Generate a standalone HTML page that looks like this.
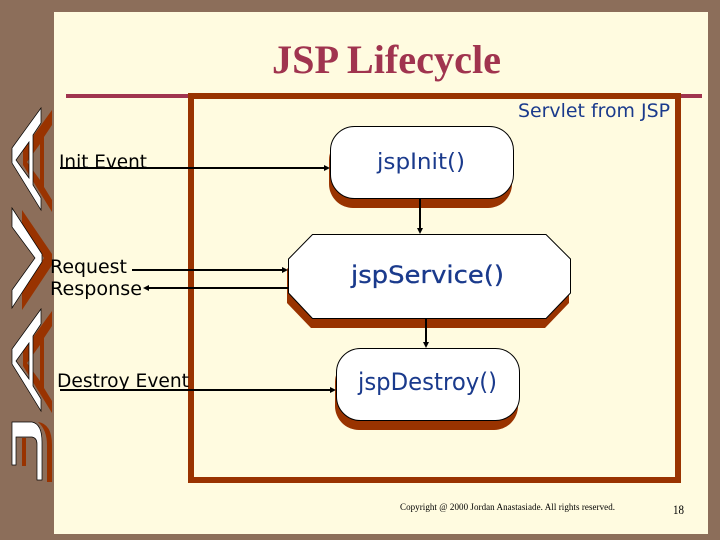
<!DOCTYPE html>
<html>
<head>
<meta charset="utf-8">
<style>
html,body{margin:0;padding:0;background:#8C6E5A;}
svg{display:block;}
</style>
</head>
<body>
<svg width="720" height="540" viewBox="0 0 720 540" xmlns="http://www.w3.org/2000/svg">
<defs>
<path id="aShape" fill-rule="evenodd" d="M41 108 L12 148 L12 163 L41 210 L41 198 L33 185 L33 135 L41 123 Z M29 142 L16 160 L29 178 Z"/>
<path id="vShape" d="M12 208 L42 254 L42 262 L12 308 L12 290 L35 258 L12 227 Z"/>
<path id="jShape" d="M12 422 L32 422 Q42 424 42 442 L42 480 L37 480 L37 444 Q37 438 32 437 L16 437 L16 465 L12 465 Z"/>
</defs>

<rect width="720" height="540" fill="#8C6E5A"/>
<rect x="54" y="12" width="654" height="522" fill="#FFFBE0"/>

<!-- JAVA side letters: shadows -->
<g fill="#993300">
  <use href="#aShape" x="11" y="2"/>
  <use href="#aShape" x="11" y="203"/>
  <path d="M22 210 L52 254 L52 265 L22 310 L22 292 L44 258 L22 228 Z"/>
  <path d="M38 422 Q52 424 52 445 L52 482 L47 482 L47 445 Q47 430 38 422 Z"/>
  <rect x="22" y="438" width="4" height="28"/>
</g>
<!-- JAVA side letters: white -->
<g fill="#FFFFFF" stroke="#000" stroke-width="0.7">
  <use href="#aShape"/>
  <use href="#aShape" y="201"/>
  <use href="#vShape"/>
  <use href="#jShape"/>
</g>

<!-- Title -->
<text x="272" y="73" font-family="'Liberation Serif',serif" font-weight="bold" font-size="40" fill="#A0344F" textLength="229" lengthAdjust="spacingAndGlyphs">JSP Lifecycle</text>
<rect x="66" y="94" width="636" height="4" fill="#A0344F"/>

<!-- Frame -->
<rect x="191" y="96" width="487" height="384" fill="none" stroke="#993300" stroke-width="6"/>

<text x="518" y="117" font-family="'DejaVu Sans',sans-serif" font-size="19" fill="#1A3A8C" textLength="152" lengthAdjust="spacingAndGlyphs">Servlet from JSP</text>

<!-- Nodes -->
<rect x="329" y="136" width="183" height="72" rx="24" ry="24" fill="#993300"/>
<rect x="330.500" y="126.500" width="183" height="72" rx="24" ry="24" fill="#FFFFFF" stroke="#000" stroke-width="1"/>

<polygon points="311,244 545,244 569,269 569,303 545,328 311,328 287,303 287,269" fill="#993300"/>
<polygon points="312.500,234.500 546,234.500 570.500,259 570.500,293 546,318.500 312.500,318.500 288.500,293 288.500,259" fill="#FFFFFF" stroke="#000" stroke-width="1"/>

<rect x="335" y="358" width="183" height="72" rx="24" ry="24" fill="#993300"/>
<rect x="336.500" y="348.500" width="183" height="72" rx="24" ry="24" fill="#FFFFFF" stroke="#000" stroke-width="1"/>

<!-- Node text -->
<g font-family="'DejaVu Sans',sans-serif" fill="#1A3A8C">
  <text x="377" y="169" font-size="22" textLength="88" lengthAdjust="spacingAndGlyphs">jspInit()</text>
  <text x="351" y="283" font-size="24" stroke="#1A3A8C" stroke-width="0.3" textLength="153" lengthAdjust="spacingAndGlyphs">jspService()</text>
  <text x="358" y="390" font-size="24" textLength="139" lengthAdjust="spacingAndGlyphs">jspDestroy()</text>
</g>

<!-- Left labels -->
<g font-family="'DejaVu Sans',sans-serif" fill="#000" font-size="19">
  <text x="59" y="168" textLength="88" lengthAdjust="spacingAndGlyphs">Init Event</text>
  <text x="50" y="273" textLength="77" lengthAdjust="spacingAndGlyphs">Request</text>
  <text x="50" y="295" textLength="92" lengthAdjust="spacingAndGlyphs">Response</text>
  <text x="57" y="387" textLength="132" lengthAdjust="spacingAndGlyphs">Destroy Event</text>
</g>

<!-- Connectors -->
<g stroke="#000" stroke-width="2" fill="none">
  <path d="M60 168 H325"/>
  <path d="M132 270 H283"/>
  <path d="M148 288 H288"/>
  <path d="M60 390 H331"/>
  <path d="M420 198 V229"/>
  <path d="M426 318 V343"/>
</g>
<g fill="#000">
  <polygon points="330,168 324,165 324,171"/>
  <polygon points="288,270 282,267 282,273"/>
  <polygon points="143,288 149,285 149,291"/>
  <polygon points="336,390 330,387 330,393"/>
  <polygon points="420,234 417,228 423,228"/>
  <polygon points="426,348 423,342 429,342"/>
</g>

<!-- Footer -->
<text x="400" y="510" font-family="'Liberation Serif',serif" font-size="9" fill="#000" textLength="215" lengthAdjust="spacing">Copyright @ 2000 Jordan Anastasiade.  All rights reserved.</text>
<text x="673" y="514" font-family="'Liberation Serif',serif" font-size="13" fill="#000" textLength="11" lengthAdjust="spacingAndGlyphs">18</text>
</svg>
</body>
</html>
